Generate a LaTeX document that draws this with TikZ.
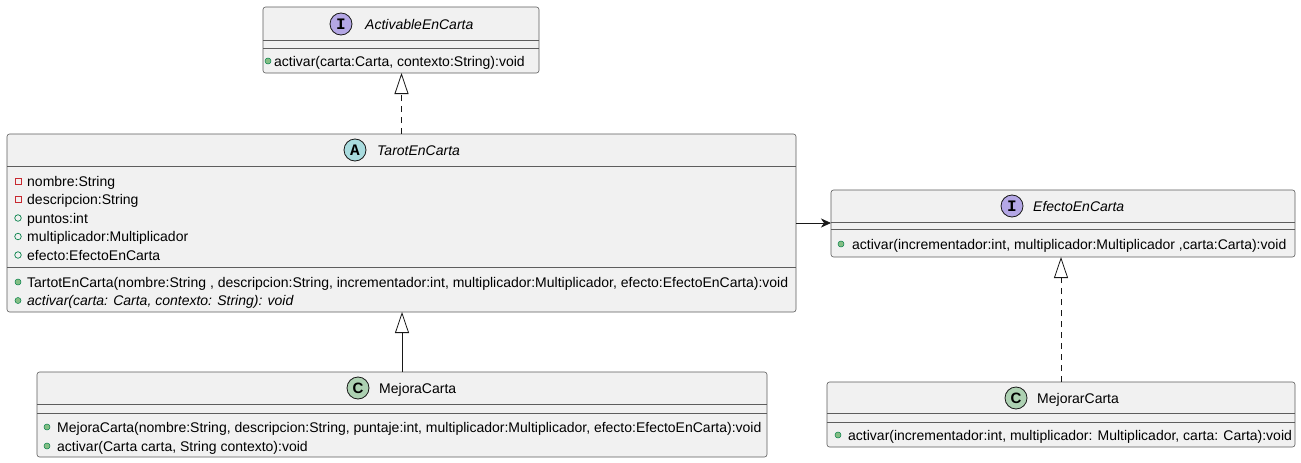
\documentclass[tikz,border=0pt]{standalone}
\usepackage{fontspec}
\setmainfont{Liberation Sans}
\newfontfamily\monob{Liberation Mono}
\usetikzlibrary{arrows.meta}
\definecolor{boxfill}{HTML}{F1F1F1}
\definecolor{boxline}{HTML}{181818}
\definecolor{ifc}{HTML}{B4A7E5}
\definecolor{absc}{HTML}{A9DCDF}
\definecolor{clsc}{HTML}{ADD1B2}
\definecolor{pubg}{HTML}{038048}
\definecolor{pubf}{HTML}{84BE84}
\definecolor{privr}{HTML}{C82930}
\tikzset{
  umlbox/.style={rectangle, draw=boxline!70, fill=boxfill, line width=0.6pt, rounded corners=2.5pt, anchor=north west, inner sep=0pt, outer sep=0pt},
  sepline/.style={draw=boxline!70, line width=0.6pt},
  txt/.style={anchor=base west, inner sep=0pt, font=\fontsize{14}{16}\selectfont},
  ttl/.style={txt, font=\fontsize{14}{16}\selectfont\itshape},
  ttlup/.style={txt},
  circ/.style={circle, draw=boxline, line width=0.8pt, minimum size=22pt, inner sep=0pt, font=\fontsize{16}{16}\selectfont\monob\bfseries},
  circc/.style={circle, draw=boxline, line width=0.8pt, minimum size=22pt, inner sep=0pt, font=\fontsize{15}{15}\selectfont\bfseries},
  pubmeth/.style={circle, minimum size=6pt, inner sep=0pt, fill=pubf, draw=pubg, line width=0.5pt},
  pubfield/.style={circle, minimum size=6.5pt, inner sep=0pt, draw=pubg, line width=0.7pt},
  privfield/.style={rectangle, minimum size=6pt, inner sep=0pt, draw=privr, line width=0.7pt},
  conn/.style={draw=boxline, line width=0.8pt},
  dashconn/.style={conn, dash pattern=on 6pt off 5pt},
  realize/.style={-{Triangle[open, length=21pt, width=14pt, line width=0.8pt]}},
  assoc/.style={-{Stealth[length=10pt, width=9pt, inset=3pt]}}
}
\begin{document}
\begin{tikzpicture}[x=1pt, y=-1pt]
\fill[white] (0,0) rectangle (1301,463);
\useasboundingbox (0,0) rectangle (1301,463);

% ActivableEnCarta
\node[umlbox, minimum width=276pt, minimum height=66pt] (act) at (263,7) {};
\draw[sepline] (263,40) -- (539,40);
\draw[sepline] (263,48) -- (539,48);
\node[circ, fill=ifc] (actc) at (341,24) {I};
\node[ttl] (actt) at (365,29) {ActivableEnCarta};
\node[pubmeth] (actm1i) at (268,61) {};
\node[txt] (actm1) at (274,66) {activar(carta:Carta, contexto:String):void};

% TarotEnCarta
\node[umlbox, minimum width=789pt, minimum height=178pt] (tarot) at (7,134) {};
\draw[sepline] (7,166) -- (796,166);
\draw[sepline] (7,267) -- (796,267);
\node[circ, fill=absc] (tarotc) at (355,150) {A};
\node[ttl] (tarott) at (377,155) {TarotEnCarta};
\node[privfield] (ta1i) at (18,181) {};
\node[txt] (ta1) at (27,186) {nombre:String};
\node[privfield] (ta2i) at (18,199.5) {};
\node[txt] (ta2) at (27,204.5) {descripcion:String};
\node[pubfield] (ta3i) at (18,218) {};
\node[txt] (ta3) at (27,223) {puntos:int};
\node[pubfield] (ta4i) at (18,236.5) {};
\node[txt] (ta4) at (27,241.5) {multiplicador:Multiplicador};
\node[pubfield] (ta5i) at (18,255) {};
\node[txt] (ta5) at (27,260) {efecto:EfectoEnCarta};
\node[pubmeth] (tm1i) at (18,282) {};
\node[txt] (tm1) at (27,287) {TartotEnCarta(nombre:String , descripcion:String, incrementador:int, multiplicador:Multiplicador, efecto:EfectoEnCarta):void};
\node[pubmeth] (tm2i) at (18,300.5) {};
\node[ttl] (tm2) at (27,305.5) {activar(carta: Carta, contexto: String): void};

% EfectoEnCarta
\node[umlbox, minimum width=464pt, minimum height=67pt] (efecto) at (831,190) {};
\draw[sepline] (831,222) -- (1295,222);
\draw[sepline] (831,229) -- (1295,229);
\node[circ, fill=ifc] (efectoc) at (1012,206) {I};
\node[ttl] (efectot) at (1033,211) {EfectoEnCarta};
\node[pubmeth] (em1i) at (841,244) {};
\node[txt] (em1) at (852,249) {activar(incrementador:int, multiplicador:Multiplicador ,carta:Carta):void};

% MejoraCarta
\node[umlbox, minimum width=730pt, minimum height=85pt] (mejora) at (37,372) {};
\draw[sepline] (37,404) -- (767,404);
\draw[sepline] (37,413) -- (767,413);
\node[circc, fill=clsc] (mejorac) at (358,388) {C};
\node[ttlup] (mejorat) at (379,393) {MejoraCarta};
\node[pubmeth] (mm1i) at (47,427) {};
\node[txt] (mm1) at (57,432) {MejoraCarta(nombre:String, descripcion:String, puntaje:int, multiplicador:Multiplicador, efecto:EfectoEnCarta):void};
\node[pubmeth] (mm2i) at (47,446) {};
\node[txt] (mm2) at (57,451) {activar(Carta carta, String contexto):void};

% MejorarCarta
\node[umlbox, minimum width=468pt, minimum height=65pt] (mejorar) at (827,382) {};
\draw[sepline] (827,413) -- (1295,413);
\draw[sepline] (827,422) -- (1295,422);
\node[circc, fill=clsc] (mejorarc) at (1016,398) {C};
\node[ttlup] (mejorart) at (1037,403) {MejorarCarta};
\node[pubmeth] (rm1i) at (838,435) {};
\node[txt] (rm1) at (848,440) {activar(incrementador:int, multiplicador: Multiplicador, carta: Carta):void};

% connectors
\draw[dashconn, realize] (tarot.north) -- (tarot.north |- act.south);
\draw[conn, realize] (mejora.north) -- (mejora.north |- tarot.south);
\draw[dashconn, realize] (mejorar.north) -- (mejorar.north |- efecto.south);
\draw[conn, assoc] (tarot.east) -- (tarot.east -| efecto.west);
\end{tikzpicture}
\end{document}
